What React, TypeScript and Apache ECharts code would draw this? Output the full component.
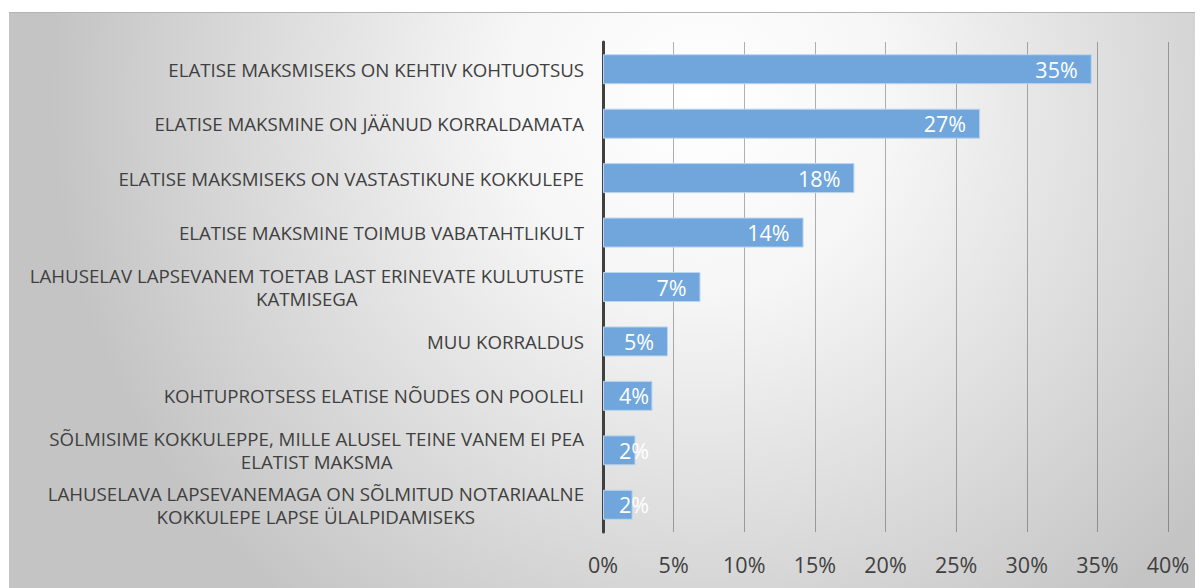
import React, { useEffect, useRef } from "react";
import * as echarts from "echarts";

const categories: string[] = [
  "ELATISE MAKSMISEKS ON KEHTIV KOHTUOTSUS",
  "ELATISE MAKSMINE ON JÄÄNUD KORRALDAMATA",
  "ELATISE MAKSMISEKS ON VASTASTIKUNE KOKKULEPE",
  "ELATISE MAKSMINE TOIMUB VABATAHTLIKULT",
  "LAHUSELAV LAPSEVANEM TOETAB LAST ERINEVATE KULUTUSTE\nKATMISEGA",
  "MUU KORRALDUS",
  "KOHTUPROTSESS ELATISE NÕUDES ON POOLELI",
  "SÕLMISIME KOKKULEPPE, MILLE ALUSEL TEINE VANEM EI PEA\nELATIST MAKSMA",
  "LAHUSELAVA LAPSEVANEMAGA ON SÕLMITUD NOTARIAALNE\nKOKKULEPE LAPSE ÜLALPIDAMISEKS",
];
const values: number[] = [34.6, 26.7, 17.8, 14.2, 6.9, 4.6, 3.5, 2.3, 2.1];
const axisMin = 0;
const axisMax = 40;
const axisStep = 5;

const FONT = "'Open Sans', sans-serif";
const W = 1195;
const H = 580;
const GRID_LEFT = 595;
const GRID_RIGHT = 35;
const PLOT_W = W - GRID_LEFT - GRID_RIGHT;

export default function App() {
  const ref = useRef<HTMLDivElement>(null);
  useEffect(() => {
    if (!ref.current) return;
    const chart = echarts.init(ref.current, undefined, { renderer: "svg" });
    const data = values.map((v) => {
      const px = ((v - axisMin) / (axisMax - axisMin)) * PLOT_W;
      const small = px < 60;
      return {
        value: v,
        label: small
          ? { position: "insideLeft", distance: 16 }
          : { position: "insideRight", distance: 14 },
      };
    });
    chart.setOption({
      animation: false,
      graphic: [
        {
          type: "rect",
          z: -10,
          silent: true,
          shape: { x: 1, y: 4, width: W - 1, height: H - 4 },
          style: {
            fill: new echarts.graphic.RadialGradient(
              692,
              92,
              650,
              [
                { offset: 0, color: "#ffffff" },
                { offset: 0.3, color: "#f6f6f6" },
                { offset: 1, color: "#c4c4c4" },
              ],
              true
            ),
          },
        },
        {
          type: "line",
          z: -9,
          silent: true,
          shape: { x1: 1, y1: 4.5, x2: W, y2: 4.5 },
          style: { stroke: "#b4b4b4", lineWidth: 1 },
        },
      ],
      grid: { left: GRID_LEFT, right: GRID_RIGHT, top: 34, bottom: 56, containLabel: false },
      xAxis: {
        type: "value",
        min: axisMin,
        max: axisMax,
        interval: axisStep,
        axisLine: { show: false },
        axisTick: { show: false },
        axisLabel: {
          formatter: "{value}%",
          color: "#404040",
          fontFamily: FONT,
          fontSize: 21.5,
          margin: 21,
        },
        splitLine: { show: true, lineStyle: { color: "rgba(0,0,0,0.3)", width: 1 } },
      },
      yAxis: {
        type: "category",
        data: categories,
        inverse: true,
        axisLine: { show: true, lineStyle: { color: "#404040", width: 3 } },
        axisTick: { show: false },
        axisLabel: {
          margin: 19,
          interval: 0,
          formatter: (v: string) =>
            v
              .split("\n")
              .map((l) => `{c|${l}}`)
              .join("\n"),
          rich: {
            c: {
              align: "center",
              color: "#404040",
              fontFamily: FONT,
              fontSize: 18.7,
              lineHeight: 23,
            },
          },
        },
      },
      series: [
        {
          type: "bar",
          data,
          barWidth: 30,
          itemStyle: { color: "#70a6db", borderColor: "#bcd5ee", borderWidth: 1 },
          label: {
            show: true,
            color: "#ffffff",
            fontFamily: FONT,
            fontSize: 21.5,
            formatter: (p: any) => `${Math.round(p.value)}%`,
          },
        },
      ],
    });
    return () => chart.dispose();
  }, []);
  return <div ref={ref} style={{ width: W, height: H }} />;
}
